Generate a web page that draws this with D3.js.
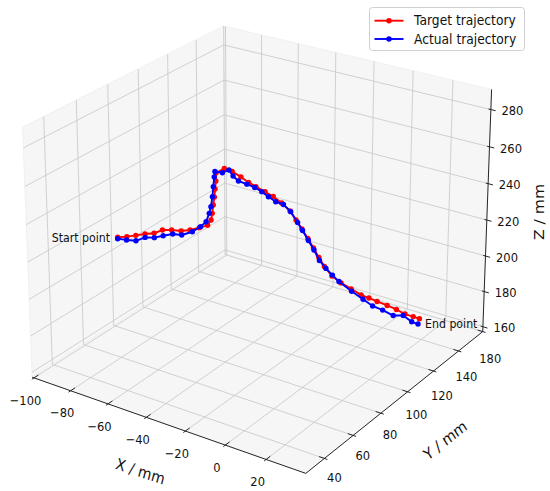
<!DOCTYPE html>
<html><head><meta charset="utf-8">
<script src="https://cdn.jsdelivr.net/npm/d3@7"></script>
<style>body{margin:0;background:#fff}svg{display:block}text{font-family:'DejaVu Sans',sans-serif;fill:#111}</style>
</head><body>
<svg id="chart" width="550" height="491"></svg>
<script>
// ---------- data ----------
const xLim = [-101, 39], yLim = [27.4, 160], zLim = [157.2, 290.7];
const xTicks = [-100, -80, -60, -40, -20, 0, 20];
const yTicks = [40, 60, 80, 100, 120, 140, 160];
const yTickLabels = ["40", "60", "80", "100", "120", "140", "180"];
const zTicks = [160, 180, 200, 220, 240, 260, 280];
const seriesNames = ["Target trajectory", "Actual trajectory"];
const seriesColors = ["#ff0000", "#0000ff"];

const targetX = [-91.1,-87.4,-83.7,-80.0,-76.4,-73.0,-69.3,-65.5,-61.9,-58.2,-54.9,-53.5,-53.0,-52.6,-52.1,-51.8,-51.5,-51.4,-48.1,-45.0,-41.6,-38.6,-35.7,-32.1,-28.9,-25.6,-22.3,-19.9,-17.6,-15.2,-13.0,-10.8,-8.6,-5.6,-2.0,2.0,6.0,9.1,12.3,16.3,20.0,23.4,26.6,29.1];
const targetY = [72.4,74.0,75.5,77.1,78.7,80.1,81.7,83.3,84.8,86.4,87.8,88.4,88.6,88.8,89.0,89.1,89.3,89.3,90.7,92.0,93.5,94.8,96.0,97.5,98.9,100.3,101.7,102.7,103.7,104.7,105.7,106.6,107.5,108.8,110.4,112.1,113.8,115.1,116.5,118.2,119.7,121.2,122.6,123.6];
const targetZ = [214.0,214.7,215.8,216.9,217.6,219.7,220.1,219.9,220.8,222.4,224.0,227.0,230.7,235.3,239.6,244.0,248.3,252.6,255.4,254.0,251.4,248.7,246.7,244.3,242.0,238.8,234.8,230.2,225.5,220.6,215.6,210.6,205.9,201.0,197.5,194.6,191.7,190.3,188.7,186.9,185.1,182.9,181.8,180.9];
const actualX = [-91.1,-87.5,-83.7,-80.0,-76.3,-72.7,-68.9,-65.3,-61.0,-57.7,-55.5,-54.2,-53.5,-52.9,-52.5,-52.1,-51.8,-48.9,-46.3,-44.7,-42.6,-39.3,-36.2,-33.4,-30.8,-27.9,-24.9,-22.0,-19.3,-17.3,-15.0,-12.8,-10.6,-8.0,-5.4,-2.8,2.2,6.8,10.6,14.6,18.8,22.7,26.1,28.6];
const actualY = [72.4,73.9,75.5,77.1,78.7,80.2,81.9,83.4,85.2,86.6,87.6,88.1,88.4,88.7,88.8,89.0,89.1,90.4,91.5,92.2,93.1,94.5,95.8,97.0,98.1,99.3,100.6,101.8,103.0,103.8,104.8,105.8,106.7,107.8,108.9,110.0,112.2,114.1,115.7,117.4,119.2,120.9,122.3,123.4];
const actualZ = [213.2,212.9,212.8,215.0,215.2,216.6,217.9,217.7,219.9,223.0,225.9,230.6,234.3,239.7,245.2,250.4,253.4,253.0,254.7,251.6,249.1,247.7,246.2,244.2,241.7,239.3,238.1,234.5,228.9,224.7,219.5,214.5,209.0,204.9,201.5,198.2,193.3,189.4,186.1,184.2,181.6,182.0,178.9,177.9];

// ---------- camera (perspective, matplotlib-like view) ----------
const cam = {azim: -55.977, elev: 22.699, dist: 7.0348, aspect: [1, 1.0343, 0.73258],
             sX: 2296.2, sY: 2560.6, cx: 261.76, cy: 233.41};
const TXT_STRETCH = cam.sY / cam.sX;

const nx = d3.scaleLinear().domain(xLim).range([-0.5 * cam.aspect[0], 0.5 * cam.aspect[0]]);
const ny = d3.scaleLinear().domain(yLim).range([-0.5 * cam.aspect[1], 0.5 * cam.aspect[1]]);
const nz = d3.scaleLinear().domain(zLim).range([-0.5 * cam.aspect[2], 0.5 * cam.aspect[2]]);
const f = cam.azim * Math.PI / 180, t = cam.elev * Math.PI / 180;
const U = [-Math.sin(f), Math.cos(f), 0];
const V = [-Math.sin(t) * Math.cos(f), -Math.sin(t) * Math.sin(f), Math.cos(t)];
const W = [Math.cos(t) * Math.cos(f), Math.cos(t) * Math.sin(f), Math.sin(t)];
function project(x, y, z) {
  const p = [nx(x), ny(y), nz(z)];
  const dot = a => a[0] * p[0] + a[1] * p[1] + a[2] * p[2];
  const den = cam.dist - dot(W);
  return [cam.cx + cam.sX * dot(U) / den, cam.cy - cam.sY * dot(V) / den];
}

const svg = d3.select("#chart");
const line2 = d3.line();

function label(g, x, y, str, o = {}) {
  return g.append("text")
    .attr("transform", `translate(${x},${y}) scale(1,${TXT_STRETCH})` + (o.rot ? ` rotate(${o.rot})` : ""))
    .attr("text-anchor", o.anchor || "middle")
    .attr("dominant-baseline", "central")
    .style("font-size", (o.size || 11.5) + "px")
    .text(str);
}

// ---------- panes ----------
const [X0, X1] = xLim, [Y0, Y1] = yLim, [Z0, Z1] = zLim;
const panes = [
  [[X0, Y0, Z0], [X0, Y1, Z0], [X0, Y1, Z1], [X0, Y0, Z1]],   // left  (x = min)
  [[X0, Y1, Z0], [X1, Y1, Z0], [X1, Y1, Z1], [X0, Y1, Z1]],   // back  (y = max)
  [[X0, Y0, Z0], [X1, Y0, Z0], [X1, Y1, Z0], [X0, Y1, Z0]]    // floor (z = min)
];
svg.append("g").selectAll("path").data(panes).join("path")
  .attr("d", d => line2(d.map(p => project(...p))) + "Z")
  .attr("fill", "#f6f6f6").attr("stroke", "#eeeeee").attr("stroke-width", 0.8);

// ---------- grid ----------
const grid = [];
xTicks.forEach(v => { grid.push([[v, Y0, Z0], [v, Y1, Z0]]); grid.push([[v, Y1, Z0], [v, Y1, Z1]]); });
yTicks.forEach(v => { grid.push([[X0, v, Z0], [X1, v, Z0]]); grid.push([[X0, v, Z0], [X0, v, Z1]]); });
zTicks.forEach(v => { grid.push([[X0, Y0, v], [X0, Y1, v]]); grid.push([[X0, Y1, v], [X1, Y1, v]]); });
svg.append("g").selectAll("path").data(grid).join("path")
  .attr("d", d => line2(d.map(p => project(...p))))
  .attr("fill", "none").attr("stroke", "#c6c6c6").attr("stroke-width", 0.8);

// ---------- axes ----------
const axG = svg.append("g").attr("stroke", "#262626").attr("stroke-width", 1).attr("fill", "none");
const dX = (X1 - X0) / 12, dY = (Y1 - Y0) / 12;
const axisLines = [[[X0, Y0, Z0], [X1, Y0, Z0]], [[X1, Y0, Z0], [X1, Y1, Z0]], [[X1, Y1, Z0], [X1, Y1, Z1]]];
const tickLines = [];
xTicks.forEach(v => tickLines.push([[v, Y0 - 0.12 * dY, Z0], [v, Y0 + 0.25 * dY, Z0]]));
yTicks.forEach(v => tickLines.push([[X1 + 0.12 * dX, v, Z0], [X1 - 0.22 * dX, v, Z0]]));
zTicks.forEach(v => tickLines.push([[X1 + 0.2 * dX, Y1, v], [X1 - 0.1 * dX, Y1, v]]));
axG.selectAll("path.ax").data(axisLines.concat(tickLines)).join("path")
  .attr("d", d => line2(d.map(p => project(...p))));

// ---------- tick labels ----------
const lg = svg.append("g");
const fmt = d3.format("d");
const yLabDy = d3.scaleLinear().domain([yTicks[0], yTicks[yTicks.length - 1]]).range([19.5, 27]);
const yLabDx = d3.scaleLinear().domain([yTicks[0], yTicks[yTicks.length - 1]]).range([10, 7.5]);
xTicks.forEach(v => { const p = project(v, Y0, Z0); label(lg, p[0] - 8.5, p[1] + 22.5, fmt(v)); });
yTicks.forEach((v, i) => { const p = project(X1, v, Z0); label(lg, p[0] + yLabDx(v), p[1] + yLabDy(v), yTickLabels[i]); });
zTicks.forEach(v => { const p = project(X1, Y1, v); label(lg, p[0] + 21.5, p[1] + 1.5, fmt(v)); });

// axis titles
label(lg, 140.5, 471, "X / mm", {rot: 16.6, size: 14});
label(lg, 445, 440, "Y / mm", {rot: -35.4, size: 14});
label(lg, 539, 212, "Z / mm", {rot: -90, size: 14});

// ---------- trajectories ----------
const series = [
  d3.zip(targetX, targetY, targetZ),
  d3.zip(actualX, actualY, actualZ)
];
series.forEach((s, i) => {
  const pts = s.map(p => project(...p));
  const g = svg.append("g");
  g.append("path").attr("d", line2(pts)).attr("fill", "none")
    .attr("stroke", seriesColors[i]).attr("stroke-width", 1.9).attr("stroke-linejoin", "round");
  g.selectAll("circle").data(pts).join("circle")
    .attr("cx", d => d[0]).attr("cy", d => d[1]).attr("r", 2.7).attr("fill", seriesColors[i]);
});

// annotations
const sp = project(targetX[0], targetY[0], targetZ[0]);
label(svg, sp[0] - 7.5, sp[1] + 1, "Start point", {anchor: "end", size: 11});
const ep = project(actualX[actualX.length - 1], actualY[actualY.length - 1], actualZ[actualZ.length - 1]);
label(svg, ep[0] + 7, ep[1], "End point", {anchor: "start", size: 11});

// ---------- legend ----------
const leg = svg.append("g");
leg.append("rect").attr("x", 369.5).attr("y", 7.5).attr("width", 155).attr("height", 43)
  .attr("rx", 3).attr("fill", "#fff").attr("stroke", "#d0d0d0").attr("stroke-width", 1);
seriesNames.forEach((name, i) => {
  const y = 20.7 + i * 18.3;
  leg.append("line").attr("x1", 374.5).attr("x2", 403.5).attr("y1", y).attr("y2", y)
    .attr("stroke", seriesColors[i]).attr("stroke-width", 1.9);
  leg.append("circle").attr("cx", 389).attr("cy", y).attr("r", 2.7).attr("fill", seriesColors[i]);
  label(leg, 414, y, name, {anchor: "start", size: 12.3});
});
</script>
</body></html>
